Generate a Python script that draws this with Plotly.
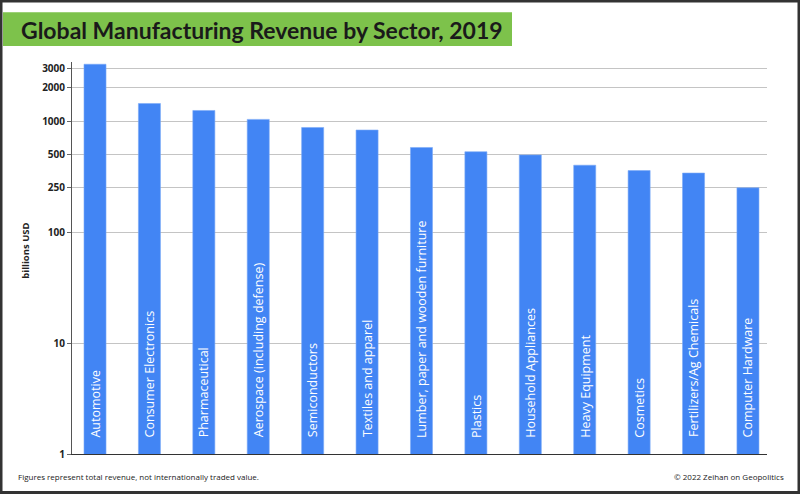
import plotly.graph_objects as go

sectors = ["Automotive", "Consumer Electronics", "Pharmaceutical", "Aerospace (including defense)",
           "Semiconductors", "Textiles and apparel", "Lumber, paper and wooden furniture", "Plastics",
           "Household Appliances", "Heavy Equipment", "Cosmetics", "Fertilizers/Ag Chemicals",
           "Computer Hardware"]
revenue = [3250, 1440, 1245, 1035, 875, 830, 578, 529, 495, 400, 358, 340, 250]
tick_vals = [1, 10, 100, 250, 500, 1000, 2000, 3000]
tick_text = ["1", "10", "100", "250", "500", "1000", "2000", "3000"]

W, H = 800, 494
L, R, T, B = 72, 33, 62, 39.5
pw, ph = W - L - R, H - T - B

def px(x):
    return (x - L) / pw

def py(y):
    return (H - B - y) / ph

fig = go.Figure()
fig.add_trace(go.Bar(
    x=list(range(len(sectors))), y=revenue,
    marker=dict(color="#4285F4", line=dict(color="#7aa9f7", width=0.6)),
    width=0.405, hoverinfo="skip"))

for i, s in enumerate(sectors):
    fig.add_annotation(x=i, xref="x", y=py(440), yref="paper", text=s, textangle=-90,
                       showarrow=False, xanchor="center", yanchor="bottom",
                       font=dict(family="Open Sans", size=12.5, color="white"))

fig.update_layout(
    width=W, height=H, margin=dict(l=L, r=R, t=T, b=B),
    paper_bgcolor="white", plot_bgcolor="white", showlegend=False,
    xaxis=dict(range=[-0.423, 12.35], showticklabels=False, showgrid=False, zeroline=False,
               showline=True, linecolor="#333", linewidth=1.2, ticks=""),
    yaxis=dict(type="log", range=[0, 3.532], tickvals=tick_vals, ticktext=tick_text,
               showgrid=True, gridcolor="#c4c4c4", gridwidth=1, showline=True,
               linecolor="#555", linewidth=1, ticks="outside", ticklen=4, tickcolor="#666",
               tickfont=dict(family="Open Sans", size=10, color="#222", weight="bold"),
               zeroline=False),
)

fig.add_annotation(x=px(26), y=py(251), xref="paper", yref="paper", xanchor="center", yanchor="middle",
                   text="billions USD", textangle=-90, showarrow=False,
                   font=dict(family="Open Sans", size=9.5, color="#222", weight="bold"))

# frame
fig.add_shape(type="rect", xref="paper", yref="paper", x0=px(0), x1=px(W), y0=py(H), y1=py(0),
              line=dict(color="#333", width=5), fillcolor="rgba(0,0,0,0)", layer="above")
# title bar
fig.add_shape(type="rect", xref="paper", yref="paper", x0=px(3), x1=px(512), y0=py(46), y1=py(12.3),
              line=dict(width=0), fillcolor="#7DC24B", layer="below")
fig.add_annotation(x=px(19), y=py(29.5), xref="paper", yref="paper", xanchor="left", yanchor="middle",
                   text="Global Manufacturing Revenue by Sector, 2019", showarrow=False,
                   font=dict(family="Lato", size=23, color="#1a1a1a", weight="bold"))
fig.add_annotation(x=px(15.7), y=py(477), xref="paper", yref="paper", xanchor="left", yanchor="middle",
                   text="Figures represent total revenue, not internationally traded value.", showarrow=False,
                   font=dict(family="Open Sans", size=8, color="#222"))
fig.add_annotation(x=px(786), y=py(477), xref="paper", yref="paper", xanchor="right", yanchor="middle",
                   text="© 2022 Zeihan on Geopolitics", showarrow=False,
                   font=dict(family="Open Sans", size=8, color="#222"))

fig.write_html("out.html", config={"displayModeBar": False, "staticPlot": True},
               post_script="document.body.style.margin='0';document.body.style.overflow='hidden';")
